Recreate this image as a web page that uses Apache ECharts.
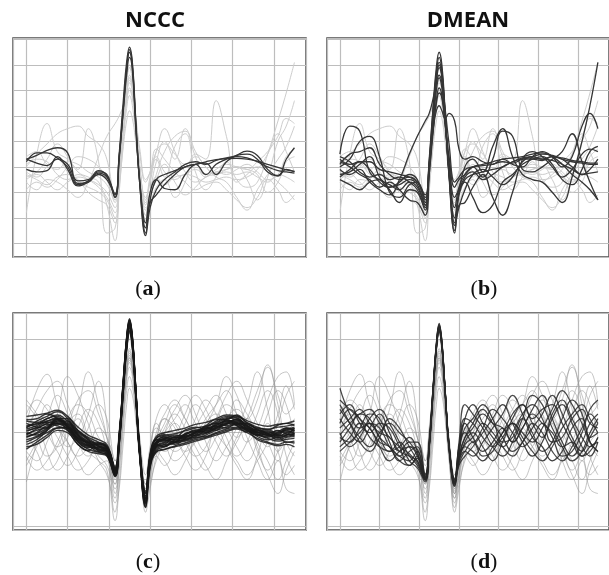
<!DOCTYPE html>
<html>
<head>
<meta charset="utf-8">
<script src="https://cdn.jsdelivr.net/npm/echarts@6/dist/echarts.min.js"></script>
<style>
  html, body { margin: 0; padding: 0; background: #fff; }
  #chart { width: 609px; height: 575px; }
</style>
</head>
<body>
<div id="chart"></div>
<script>
// sample positions shared by every trace (grid line every 10)
const xs = [0, 2.5, 5, 7.5, 10, 12.5, 15, 17.5, 19.5, 21.5, 22.5, 23.5, 24.3, 25, 25.7, 26.5, 27.5, 28.9, 30, 31.5, 33.5, 36, 38.5, 41, 43.5, 46, 48.5, 51, 53.5, 56, 58.5, 61, 63, 65];

const panelTitles = ['NCCC', 'DMEAN'];
const panelLabels = ['a', 'b', 'c', 'd'];

// top row: background traces (shared by a and b), 100 = one grid step
const lightAB = [
  [-180,50,170,60,30,-10,150,20,-260,-240,-80,80,180,220,190,100,-20,-120,-60,30,-40,80,130,-20,-90,-40,20,-50,-80,-60,50,180,290,410],
  [0,50,90,130,150,160,120,90,30,-130,0,150,260,300,270,160,0,-150,-50,60,90,50,10,40,0,-30,-10,0,-50,-130,-40,100,160,260],
  [-60,-90,-50,-60,-90,-120,-60,40,120,170,200,240,290,330,300,200,70,-50,-20,60,150,60,-20,-60,-40,-10,10,0,-10,20,60,120,190,170],
  [-40,-20,30,90,40,-20,-40,-60,-150,-290,-100,100,230,280,240,120,-30,-170,-120,-30,60,120,140,60,0,-40,-60,-120,-170,-90,-30,30,80,160],
  [-30,-50,-70,-40,-30,-50,-100,-130,-150,-220,-60,140,290,350,310,170,-10,-160,-140,-80,-50,-120,-60,50,30,260,120,-60,-30,0,-20,-60,-90,-130],
  [10,30,20,-30,-50,-30,-50,-80,-120,-180,-20,180,330,390,340,190,-20,-190,-100,20,100,30,150,40,-40,-20,-30,-10,10,-20,-50,-30,40,70],
  [-20,-40,0,30,-20,-60,-80,-100,-130,-200,-40,160,300,360,320,170,-10,-130,-40,40,-20,-50,-30,-40,-60,-50,-40,-50,-40,-10,50,130,60,-20],
  [-50,-30,-60,-90,-60,-40,-50,-70,-100,-160,-20,150,260,310,280,160,0,-140,-110,-50,10,-60,-110,-80,-40,-30,-20,-30,-20,-40,-60,-30,-40,-60],
  [40,60,10,-10,20,10,-20,-40,-70,-130,10,200,340,400,360,200,-30,-210,-100,-40,-70,-40,-30,-10,-30,-20,-10,0,-10,-30,-100,-60,20,40],
  [-90,-60,-80,-50,0,40,30,0,-50,-140,0,180,290,340,310,190,50,-60,-20,70,30,-20,-60,-90,-70,-60,-90,-130,-160,-120,-50,-90,-140,-110]
];

// (a) NCCC selected traces
const darkA = [
  [30,45,65,75,55,-65,-60,-20,-30,-120,40,230,380,460,400,170,-70,-260,-130,-50,-30,-15,0,10,20,28,32,33,30,22,10,-2,-12,-18],
  [20,55,55,35,0,-70,-55,-25,-40,-105,40,220,360,430,380,160,-60,-220,-100,-50,-85,-90,-30,10,15,-30,20,45,62,45,-10,-35,30,75],
  [-10,-20,-15,40,-10,-75,-60,-30,-50,-110,30,230,390,450,390,180,-60,-240,-140,-110,-70,-30,0,10,-30,10,30,45,50,30,-20,-35,-10,-20],
  [30,15,5,30,10,-55,-50,-15,-35,-120,50,260,410,470,410,190,-70,-270,-160,-90,-50,-20,10,20,10,25,35,40,35,20,0,-15,-20,-25]
];

// (b) DMEAN selected traces
const darkB = [
  [50,160,140,-20,-50,-70,-90,-60,-80,-150,-10,190,330,390,350,190,-20,-200,-100,-40,-20,-50,-30,0,20,30,30,25,40,30,20,15,10,10],
  [0,30,100,120,40,-100,-120,-70,-60,-130,20,230,370,430,380,210,-30,-260,-100,0,30,-20,80,150,40,-30,-50,-60,-100,-140,-40,100,240,410],
  [10,50,60,75,10,-30,-50,-40,-60,-120,0,150,250,290,270,170,40,-80,-50,-30,0,10,20,30,35,40,50,55,40,10,-30,-60,-90,-130],
  [-50,-70,-90,-60,-50,-90,-140,-90,-100,-170,-30,140,260,310,280,170,20,-120,-90,-60,-120,-180,-150,-60,-30,10,30,40,10,-50,-70,-10,60,80],
  [-10,-30,-10,-60,-90,-110,-50,50,120,180,210,270,330,360,330,230,90,-60,-40,-10,0,5,10,20,15,30,35,30,25,10,-10,-30,-25,-20],
  [30,10,20,20,-10,-20,-30,-40,-60,-110,10,150,220,240,220,190,210,180,70,30,40,20,10,30,10,0,40,60,40,0,40,160,210,150],
  [-30,-20,10,40,-40,-80,-60,-30,-50,-140,30,240,390,450,400,220,-40,-250,-150,-140,-80,-30,-120,-190,-100,30,60,40,0,-40,-10,50,70,60],
  [20,0,-30,-50,-80,-60,-90,-130,-140,-190,-30,170,300,350,310,180,-10,-160,-80,-30,0,-40,30,140,120,-10,-20,0,30,60,130,20,-60,-130],
  [-40,-10,20,-10,-60,-80,-70,-50,-70,-150,0,200,340,400,360,200,-30,-220,-110,-50,-30,-20,-10,0,20,35,40,50,45,30,0,-30,-10,30],
  [40,20,-20,-40,-30,-50,-40,-60,-90,-160,10,210,360,410,370,200,-20,-230,-160,-90,-30,-10,-40,-70,-40,20,40,30,40,35,25,20,15,15]
];

// bottom row: background traces (shared by c and d)
const lightCD = [
  [-105,-20,60,20,-30,-10,40,110,20,-170,-120,-20,60,95,80,30,-60,-150,-90,-20,30,10,-40,-20,20,40,10,-30,-60,-20,40,90,60,-10],
  [20,90,125,60,10,30,-20,-50,-70,-120,-40,60,130,160,140,70,-30,-110,-60,0,40,70,30,-10,-40,-10,30,50,20,-30,-80,-40,0,20],
  [-40,-60,-20,40,120,80,20,-30,-20,-60,10,90,150,175,150,80,-10,-90,-30,20,-20,-60,-40,10,50,80,40,-10,30,90,140,60,-20,-50],
  [60,30,-40,-80,-50,10,50,20,-40,-140,-70,40,120,150,130,60,-40,-130,-100,-50,-70,-30,20,60,30,-20,-50,-20,20,-40,-90,-130,-80,-40],
  [-20,40,20,-30,-10,50,130,60,-10,-110,-40,70,140,170,150,80,-20,-120,-70,-30,10,50,80,40,-20,-60,-30,10,60,130,50,-40,-10,30],
  [30,-10,-50,-30,20,40,-10,-60,-90,-150,-80,30,110,140,120,50,-50,-160,-110,-60,-20,20,-10,-50,-80,-40,10,70,40,0,-30,20,80,110],
  [-70,-30,30,80,40,-20,-50,-30,-50,-100,-30,80,170,200,170,80,-30,-120,-40,30,60,20,-20,-50,-30,20,60,40,-10,-60,-100,-60,-120,-130],
  [40,70,50,10,-20,-60,-90,-70,-60,-130,-60,50,130,160,140,70,-40,-140,-80,-40,-60,-90,-60,-10,30,60,90,40,-20,10,70,120,130,60],
  [-50,-80,-60,-20,30,60,40,-10,-30,-90,-20,90,180,215,180,90,-30,-130,-60,-10,30,-10,-50,-80,-50,10,-30,-70,-100,-50,20,-40,-90,-70],
  [10,50,90,110,60,0,-40,-60,-80,-188,-110,10,90,120,100,40,-50,-140,-90,-30,0,30,60,20,-10,30,80,110,70,20,-20,-60,-20,0],
  [-30,0,40,30,-20,-50,-30,10,-10,-70,0,100,180,210,180,90,-20,-110,-40,10,-10,-40,-20,30,70,40,-10,-50,-20,40,90,40,-50,-90],
  [70,40,0,-40,-70,-40,10,60,30,-60,0,80,150,180,155,75,-30,-170,-120,-50,0,40,10,-30,-70,-100,-60,-10,30,-20,-60,-100,-60,-20],
  [-60,-20,20,-10,-50,-80,-60,-20,-40,-110,-40,60,130,155,135,65,-40,-130,-70,-20,20,60,30,0,20,60,120,80,30,70,145,80,40,60],
  [0,-40,-80,-60,10,70,90,40,-10,-90,-30,70,140,165,140,70,-30,-125,-70,-30,-40,-10,40,80,50,0,-30,-60,-90,-60,-20,40,100,50]
];

// (c) NCCC cluster
const darkC = [
  [5,10,20,28,12,-12,-22,-28,-38,-82,-12,105,195,235,198,92,-45,-142,-58,-22,-18,-12,-8,-2,5,12,22,18,8,2,-3,-8,0,2],
  [-10,0,15,20,18,-5,-20,-35,-40,-85,-18,98,188,228,192,88,-40,-135,-62,-28,-25,-10,-12,-5,0,8,18,24,12,0,-5,5,-2,-5],
  [15,18,25,32,10,-15,-28,-25,-30,-78,-10,108,198,238,200,95,-42,-148,-55,-18,-10,-15,-5,5,8,15,25,20,5,-5,2,-6,8,5],
  [0,-5,8,22,20,0,-15,-30,-42,-88,-20,95,185,225,190,85,-48,-150,-65,-30,-22,-18,-15,-8,-2,10,20,28,15,5,0,-10,-5,0],
  [-5,8,18,15,5,-18,-30,-32,-36,-80,-14,102,192,232,196,90,-44,-138,-50,-20,-12,-5,-10,0,10,20,15,22,10,-2,-8,0,5,-3],
  [20,12,10,25,22,-2,-18,-22,-32,-76,-8,110,200,240,202,96,-38,-130,-52,-15,-15,-20,-2,2,12,5,28,15,2,8,-4,-12,-6,10],
  [-15,-8,5,18,15,-8,-25,-38,-45,-90,-22,92,182,222,188,84,-50,-155,-70,-35,-28,-22,-18,-12,-5,5,12,18,20,6,-2,-15,-10,-8],
  [8,15,30,35,15,-10,-20,-26,-34,-82,-12,104,194,234,198,92,-44,-145,-58,-24,-14,-8,-4,6,2,18,24,26,8,-6,-2,4,2,6],
  [-2,5,12,25,25,2,-12,-28,-38,-84,-16,100,190,230,195,90,-46,-140,-60,-25,-30,-14,-6,-6,6,14,10,20,14,4,6,-4,-8,-2],
  [12,20,22,20,8,-20,-32,-30,-35,-79,-11,106,196,236,199,93,-43,-144,-56,-20,-16,-25,-12,2,4,10,20,16,4,-4,-10,-2,6,12],
  [-8,-2,10,28,18,-6,-22,-34,-40,-86,-18,97,187,227,192,87,-47,-147,-63,-28,-20,-10,-14,-4,8,16,26,22,6,0,4,-6,-4,-6],
  [3,12,24,30,12,-14,-26,-24,-33,-80,-12,103,193,233,197,91,-45,-141,-57,-22,-8,-16,-2,4,0,12,18,30,16,2,-6,2,10,4],
  [-20,-10,0,10,10,-12,-28,-36,-44,-88,-20,94,184,224,190,86,-48,-152,-66,-32,-26,-20,-16,-10,-8,0,8,12,10,-4,-12,-18,-14,-12],
  [25,22,30,38,25,5,-10,-20,-30,-75,-6,112,202,242,204,98,-36,-128,-48,-12,-6,-2,4,10,14,22,32,28,18,10,8,12,14,18],
  [-30,-25,-10,5,0,-25,-40,-45,-50,-92,-24,90,180,218,184,82,-52,-158,-72,-40,-35,-30,-25,-18,-12,-5,2,8,0,-12,-20,-25,-20,-22],
  [35,38,42,48,35,12,-5,-15,-25,-72,-4,114,204,244,206,100,-34,-125,-44,-8,0,5,10,18,22,30,38,36,26,18,14,18,20,25],
  [-25,-15,5,30,30,5,-15,-40,-48,-92,-24,90,178,218,184,82,-50,-150,-68,-38,-30,-20,-8,0,12,25,35,32,14,-8,-15,-10,-20,-18],
  [28,30,40,30,5,-25,-38,-22,-28,-76,-6,110,200,240,203,97,-40,-135,-50,-12,-4,-10,6,12,8,20,30,34,22,12,6,16,20,15],
  [-35,-20,-5,10,12,-20,-35,-42,-48,-94,-26,88,176,214,182,80,-54,-160,-75,-42,-36,-28,-22,-15,-10,-2,5,10,5,-15,-22,-28,-25,-30],
  [10,25,35,45,30,-5,-25,-40,-36,-82,-14,101,191,231,196,90,-45,-140,-60,-26,-12,-20,-10,0,15,28,28,38,20,8,-6,-4,10,8]
];

// (d) DMEAN cluster
const darkD = [
  [95,40,10,20,-10,-30,-50,-60,-40,-95,-30,90,180,220,185,90,-30,-105,-40,30,60,20,-10,-30,0,40,60,30,-20,-10,30,50,20,10],
  [20,50,30,-10,-30,-40,-20,-50,-70,-100,-30,95,185,225,190,92,-28,-100,-60,-40,-50,-20,10,40,80,40,-10,-30,-60,-40,10,30,-10,0],
  [-10,-20,10,40,30,-20,-60,-40,-30,-90,-20,100,190,232,195,95,-25,-110,-30,20,-10,-40,-20,10,-20,10,50,80,30,-20,-50,-20,20,40],
  [40,60,20,0,20,10,-30,-70,-55,-98,-28,92,182,222,188,90,-32,-108,-50,-10,20,50,20,-10,-40,-20,20,0,-40,-60,-30,10,40,20],
  [-20,10,40,30,-10,-40,-30,-10,-40,-102,-32,88,178,218,182,86,-34,-112,-70,-50,-30,0,30,60,20,-20,-50,-20,30,60,20,-30,-50,-20],
  [60,20,-20,-40,-10,30,10,-30,-60,-100,-30,94,184,226,190,92,-30,-102,-20,60,40,10,-30,-50,-20,30,80,60,10,-30,-60,-40,0,30],
  [0,-30,-10,30,50,20,-20,-60,-75,-105,-35,86,176,216,180,84,-36,-115,-60,-20,0,-30,-60,-20,30,60,20,-10,40,70,30,-10,-30,-10],
  [30,0,-20,10,40,0,-40,-20,-20,-88,-18,102,192,234,197,96,-24,-98,-30,10,30,60,30,-20,-10,30,0,-40,-20,30,70,40,-20,-40],
  [-30,-10,20,10,-30,-60,-40,-30,-50,-96,-26,96,186,228,192,93,-27,-104,-50,-30,-40,-60,-30,0,40,60,30,50,60,20,-20,-50,-40,-10],
  [70,50,30,10,-20,-30,-50,-30,-35,-92,-22,98,188,230,194,94,-26,-106,-45,0,-20,10,50,30,0,-30,-10,20,-10,-50,-40,0,50,70],
  [10,30,50,20,0,-10,-40,-50,-60,-99,-29,91,181,221,186,88,-32,-109,-55,-25,-10,20,0,-30,-50,-20,10,40,80,40,-10,-40,-10,20],
  [-40,-20,0,20,10,-30,-60,-70,-50,-94,-24,97,187,229,193,94,-26,-101,-35,30,20,-10,-30,-10,20,0,-20,10,50,90,60,20,-20,-40],
  [50,20,-10,-30,0,20,0,-20,-45,-97,-27,93,183,224,189,91,-29,-107,-65,-40,-20,-50,-40,0,20,-10,-40,-60,-30,10,40,60,30,0],
  [-5,20,40,50,20,-10,-30,-45,-65,-101,-31,89,179,219,184,87,-33,-113,-50,-10,10,40,20,10,-20,10,40,20,0,-30,-20,-50,-30,-20]
];

const chart = echarts.init(document.getElementById('chart'), null, { renderer: 'canvas' });

const grids = [
  { left: 13, top: 38, width: 293, height: 219 },
  { left: 327, top: 38, width: 293, height: 219 },
  { left: 13, top: 313, width: 293, height: 217 },
  { left: 327, top: 313, width: 293, height: 217 }
].map(g => Object.assign(g, { show: true, backgroundColor: '#fff', borderColor: '#4d4d4d', borderWidth: 1.5 }));

const gridLine = { show: true, lineStyle: { color: '#bdbdbd', width: 1.2 } };
const hidden = { axisLine: { show: false }, axisTick: { show: false }, axisLabel: { show: false } };

const xAxis = [0, 1, 2, 3].map(i => Object.assign({
  type: 'value', gridIndex: i, min: -3.25, max: 67.8,
  splitNumber: 7, minInterval: 10, maxInterval: 10, splitLine: gridLine
}, hidden));

const yRange = [[-354, 506], [-354, 506], [-208, 256], [-208, 256]];
const yAxis = [0, 1, 2, 3].map(i => Object.assign({
  type: 'value', gridIndex: i, min: yRange[i][0], max: yRange[i][1],
  splitNumber: i < 2 ? 8 : 5, minInterval: 100, maxInterval: 100, splitLine: gridLine
}, hidden));

function traces(set, idx, color, width, z) {
  return set.map(v => ({
    type: 'line', xAxisIndex: idx, yAxisIndex: idx,
    data: xs.map((x, i) => [x, v[i]]),
    smooth: 0.45, symbol: 'none', silent: true, z: z,
    lineStyle: { color: color, width: width }
  }));
}

const series = [].concat(
  traces(lightAB, 0, '#cdcdcd', 1, 2),
  traces(darkA, 0, '#353535', 1.3, 3),
  traces(lightAB, 1, '#cdcdcd', 1, 2),
  traces(darkB, 1, '#353535', 1.3, 3),
  traces(lightCD, 2, 'rgba(150,150,150,0.55)', 1, 2),
  traces(darkC, 2, 'rgba(25,25,25,0.85)', 1.4, 3),
  traces(lightCD, 3, 'rgba(150,150,150,0.55)', 1, 2),
  traces(darkD, 3, 'rgba(40,40,40,0.85)', 1.2, 3)
);

const titleStyle = { font: 'bold 22px "Open Sans", sans-serif', fill: '#111', textAlign: 'center', textVerticalAlign: 'middle' };
const labelPos = [[148, 289], [484, 289], [148, 562], [484, 562]];

const graphic = [
  { type: 'text', x: 155, y: 21, style: Object.assign({ text: panelTitles[0] }, titleStyle) },
  { type: 'text', x: 468, y: 21, style: Object.assign({ text: panelTitles[1] }, titleStyle) }
].concat(panelLabels.map((l, i) => ({
  type: 'text', x: labelPos[i][0], y: labelPos[i][1],
  style: {
    text: '(' + '{b|' + l + '})',
    font: '22px "Liberation Serif", serif', fill: '#111',
    textAlign: 'center', textVerticalAlign: 'middle',
    rich: { b: { fontWeight: 'bold', fontSize: 22, fontFamily: 'Liberation Serif' } }
  }
})));

chart.setOption({
  animation: false,
  backgroundColor: '#fff',
  grid: grids,
  xAxis: xAxis,
  yAxis: yAxis,
  graphic: graphic,
  series: series
});
</script>
</body>
</html>
